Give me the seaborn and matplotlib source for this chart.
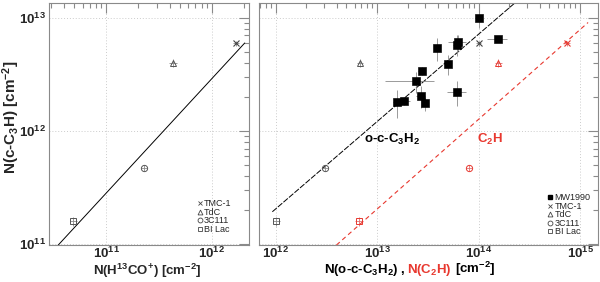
import numpy as np
import pandas as pd
import matplotlib
matplotlib.use("Agg")
import matplotlib.pyplot as plt
from matplotlib.lines import Line2D
from matplotlib.ticker import LogLocator, FuncFormatter, NullFormatter
import seaborn as sns

# ---------------- data ----------------
sources = ["TMC-1", "TdC", "3C111", "BI Lac"]
markers_src = ["x", "^", "o", "s"]
n_h13cop = [1.7e12, 4.3e11, 2.3e11, 4.9e10]
n_c3h = [6.0e12, 4.0e12, 4.7e11, 1.6e11]
n_c3h_err = [0.3e12, 0.35e12, 0.3e11, 0.15e11]
n_h13cop_err = [0.1e12, 0.4e11, 0.15e11, 0.4e10]
n_c3h2 = [1.0e14, 6.85e12, 3.1e12, 1.02e12]
n_c3h2_err = [0.05e14, 0.5e12, 0.2e12, 0.08e12]
n_c2h = [7.5e14, 1.57e14, 8.1e13, 6.6e12]
n_c2h_err = [0.5e14, 0.12e14, 0.5e13, 0.6e12]

mw_c3h2 = [1.0e14, 1.57e14, 6.3e13, 6.1e13, 3.9e13, 5.0e13, 2.75e13,
           2.4e13, 2.7e13, 1.86e13, 1.59e13, 2.95e13, 6.2e13]
mw_c3h = [9.9e12, 6.5e12, 6.1e12, 5.8e12, 5.4e12, 3.9e12, 3.4e12,
          2.75e12, 2.06e12, 1.86e12, 1.8e12, 1.76e12, 2.2e12]
mw_c3h2_err = [0.7e13, 3.5e13, 1.3e13, 0.5e13, 0.3e13, 0.4e13, 0.2e13,
               1.2e13, 0.3e13, 0.25e13, 0.15e13, 0.2e13, 1.3e13]
mw_c3h_err = [1.8e12, 0.3e12, 1.0e12, 1.2e12, 1.2e12, 0.8e12, 0.3e12,
              0.6e12, 0.45e12, 0.15e12, 0.5e12, 0.25e12, 0.55e12]

fit_left_x = [3.5e10, 2.05e12]
fit_left_y = [9.8e10, 6.0e12]
fit_c3h2_x = [9.3e11, 2.47e14]
fit_c3h2_y = [1.94e11, 1.44e13]
fit_c2h_x = [3.98e12, 1.2e15]
fit_c2h_y = [9.86e10, 9.1e12]

# ---------------- style ----------------
sns.set_style("white")
plt.rcParams["font.family"] = ["Liberation Sans", "DejaVu Sans"]
plt.rcParams["mathtext.default"] = "bf"
plt.rcParams["mathtext.fontset"] = "custom"
plt.rcParams["mathtext.bf"] = "Liberation Sans:bold"
plt.rcParams["mathtext.rm"] = "Liberation Sans"

GRAY = "#8a8a8a"
RED = "#e8382f"
PINK = "#e07070"

fig = plt.figure(figsize=(6.0, 2.82), dpi=100)
axL = fig.add_axes([0.0817, 0.13, 0.333, 0.859])
axR = fig.add_axes([0.432, 0.13, 0.565, 0.859])

ylim = (9.8e10, 1.35e13)


def fmt(v, pos):
    k = int(round(np.log10(v)))
    return r"$10^{%d}$" % k


for ax in (axL, axR):
    ax.set_xscale("log")
    ax.set_yscale("log")
    ax.set_ylim(*ylim)
    for s in ax.spines.values():
        s.set_color(GRAY)
        s.set_linewidth(0.8)
    ax.xaxis.set_major_locator(LogLocator(base=10, numticks=10))
    ax.xaxis.set_minor_locator(LogLocator(base=10, subs=np.arange(2, 10), numticks=20))
    ax.yaxis.set_major_locator(LogLocator(base=10, numticks=10))
    ax.yaxis.set_minor_locator(LogLocator(base=10, subs=np.arange(2, 10), numticks=20))
    ax.xaxis.set_major_formatter(FuncFormatter(fmt))
    ax.yaxis.set_major_formatter(FuncFormatter(fmt))
    ax.xaxis.set_minor_formatter(NullFormatter())
    ax.yaxis.set_minor_formatter(NullFormatter())
    ax.tick_params(which="both", direction="in", top=True, right=True, color=GRAY,
                   width=0.8, labelsize=9.5)
    ax.tick_params(axis="x", pad=0.5)
    ax.tick_params(axis="y", pad=2)
    ax.tick_params(which="major", length=7)
    ax.tick_params(which="minor", length=3.5)
    ax.grid(True, which="major", color="#cccccc", linestyle=(0, (1, 2)), linewidth=0.7)

axL.set_xlim(2.88e10, 2.24e12)
axR.set_xlim(6.9e11, 1.51e15)
axR.tick_params(axis="y", labelleft=False)

# ---------------- left panel ----------------
sns.lineplot(x=fit_left_x, y=fit_left_y, ax=axL, color="black", linewidth=0.7)
axL.errorbar(n_h13cop, n_c3h, xerr=n_h13cop_err, yerr=n_c3h_err, fmt="none",
             ecolor=GRAY, elinewidth=0.6)
for xx, yy, m in zip(n_h13cop, n_c3h, markers_src):
    if m == "x":
        axL.plot(xx, yy, marker="x", ms=4.5, color="#444444", mew=0.8)
    else:
        axL.plot(xx, yy, marker=m, ms=4.5, mfc="none", mec="#555555", mew=0.7)

axL.set_xlabel(r"N(H$^{13}$CO$^{+}$) [cm$^{-2}$]", fontsize=9.5, fontweight="bold")
axL.xaxis.set_label_coords(0.49, -0.068)
axL.set_ylabel(r"N(c-C$_3$H) [cm$^{-2}$]", fontsize=11, fontweight="bold", va="center")
axL.yaxis.set_label_coords(-0.19, 0.53)

hL = [Line2D([], [], ls="none", marker=m, ms=3.5, color="#444444", mfc="none", mew=0.6)
      for m in markers_src]
axL.legend(hL, sources, loc="upper left", bbox_to_anchor=(0.74, 0.19), frameon=False,
           fontsize=6.5, handlelength=0.6, handletextpad=0.2, labelspacing=-0.05,
           borderpad=0, borderaxespad=0)

# ---------------- right panel ----------------
sns.lineplot(x=fit_c3h2_x, y=fit_c3h2_y, ax=axR, color="black", linewidth=0.7,
             linestyle=(0, (6, 1.5)))
sns.lineplot(x=fit_c2h_x, y=fit_c2h_y, ax=axR, color=RED, linewidth=0.8,
             linestyle=(0, (4, 3)))

axR.errorbar(mw_c3h2, mw_c3h, xerr=mw_c3h2_err, yerr=mw_c3h_err, fmt="none",
             ecolor=GRAY, elinewidth=0.6)
dfMW = pd.DataFrame({"x": mw_c3h2, "y": mw_c3h})
sns.scatterplot(data=dfMW, x="x", y="y", marker="s", s=30, color="black",
                edgecolor="black", ax=axR, legend=False, zorder=5)
axR.set_xlabel("")
axR.set_ylabel("")

axR.errorbar(n_c3h2, n_c3h, xerr=n_c3h2_err, yerr=n_c3h_err, fmt="none",
             ecolor=GRAY, elinewidth=0.6)
axR.errorbar(n_c2h, n_c3h, xerr=n_c2h_err, yerr=n_c3h_err, fmt="none",
             ecolor=PINK, elinewidth=0.6)
for xx, x2, yy, m in zip(n_c3h2, n_c2h, n_c3h, markers_src):
    if m == "x":
        axR.plot(xx, yy, marker="x", ms=4.5, color="#444444", mew=0.8)
        axR.plot(x2, yy, marker="x", ms=4.5, color=RED, mew=0.8)
    else:
        axR.plot(xx, yy, marker=m, ms=4.5, mfc="none", mec="#555555", mew=0.7)
        axR.plot(x2, yy, marker=m, ms=4.5, mfc="none", mec=RED, mew=0.7)

axR.text(1.42e13, 8.5e11, r"o-c-C$_3$H$_2$", fontsize=9.5, fontweight="bold",
         color="black", ha="center", va="center")
axR.text(1.29e14, 8.5e11, r"C$_2$H", fontsize=9.5, fontweight="bold",
         color=RED, ha="center", va="center")

# x label with mixed colors
ybase = 0.032
fig.text(0.678, ybase, r"N(o-c-C$_3$H$_2$) , ", fontsize=9.5, fontweight="bold",
         color="black", ha="right", va="baseline")
fig.text(0.678, ybase, r"N(C$_2$H)", fontsize=9.5, fontweight="bold", color=RED,
         ha="left", va="baseline")
fig.text(0.758, ybase, r"[cm$^{-2}$]", fontsize=9.5, fontweight="bold",
         color="black", ha="left", va="baseline")

labsR = ["MW1990"] + sources
hR = [Line2D([], [], ls="none", marker="s", ms=3.5, color="black")] + \
     [Line2D([], [], ls="none", marker=m, ms=3.5, color="#444444", mfc="none", mew=0.6)
      for m in markers_src]
axR.legend(hR, labsR, loc="upper left", bbox_to_anchor=(0.85, 0.215), frameon=False,
           fontsize=6.5, handlelength=0.6, handletextpad=0.2, labelspacing=-0.05,
           borderpad=0, borderaxespad=0)

fig.savefig("out.png", dpi=100)
